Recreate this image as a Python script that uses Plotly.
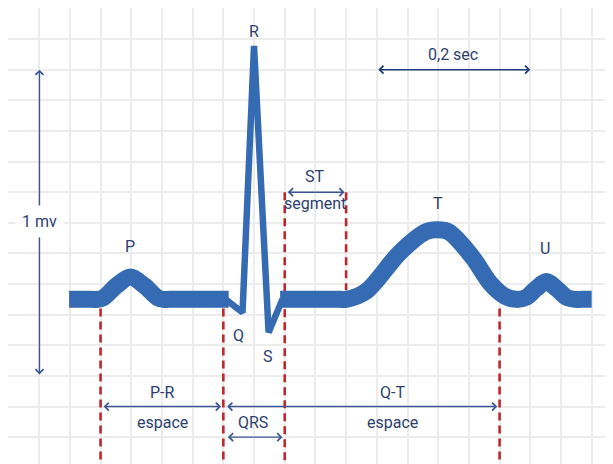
import plotly.graph_objects as go

# ---------------- data (time in seconds, amplitude in mV) ----------------
# baseline + P wave (thick trace)
p_time = [0.079, 0.108, 0.116, 0.124, 0.141, 0.159, 0.177, 0.194, 0.202, 0.210, 0.287]
p_volt = [0.0, 0.0, 0.0, 0.006, 0.045, 0.073, 0.045, 0.006, 0.0, 0.0, 0.0]

# QRS complex (thin trace)
qrs_time = [0.283, 0.305, 0.320, 0.339, 0.357]
qrs_volt = [0.0, -0.043, 0.828, -0.108, 0.0]

# ST segment + T wave + U wave (thick trace)
tu_time = [0.354, 0.432, 0.440, 0.466, 0.510, 0.544, 0.559, 0.574, 0.604, 0.628,
           0.647, 0.662, 0.675, 0.688, 0.701, 0.714, 0.727, 0.739, 0.747, 0.760]
tu_volt = [0.0, 0.0, 0.0, 0.026, 0.153, 0.221, 0.227, 0.220, 0.140, 0.052,
           0.010, 0.0, 0.007, 0.036, 0.058, 0.036, 0.007, 0.0, 0.0, 0.0]

# wave letters
wave_names = ["P", "Q", "R", "S", "T", "U"]
wave_time = [0.159, 0.2995, 0.320, 0.3385, 0.560, 0.699]
wave_volt = [0.172, -0.118, 0.874, -0.186, 0.312, 0.166]

# red dashed interval markers
marker_time = [0.12, 0.28, 0.36, 0.44, 0.64]
marker_top = [-0.03, -0.03, 0.35, 0.35, -0.03]
marker_bottom = [-0.60, -0.60, -0.60, 0.03, -0.60]

# interval arrows: (start time, end time, level)
interval_start = [0.122, 0.283, 0.284, 0.362, 0.480]
interval_end = [0.277, 0.637, 0.357, 0.438, 0.680]
interval_level = [-0.35, -0.35, -0.45, 0.35, 0.75]
interval_color = ["#3a5695", "#3a5695", "#3a5695", "#3a5695", "#1f3a78"]

# interval texts
label_texts = ["P-R", "espace", "Q-T", "espace", "QRS", "ST", "segment", "0,2 sec"]
label_time = [0.2005, 0.2005, 0.500, 0.500, 0.319, 0.3997, 0.3997, 0.5794]
label_volt = [-0.303, -0.401, -0.303, -0.401, -0.401, 0.400, 0.312, 0.800]

# amplitude calibration arrow
mv_time = 0.0404
mv_low, mv_high = -0.25, 0.75
mv_label = "1 mv"
mv_label_volt = 0.2534

# ---------------- styling ----------------
ECG_BLUE = "rgb(53,107,179)"
RED = "#c0272d"
TEXT = "#2c3e6e"
FONT = "Roboto, Arial, sans-serif"

fig = go.Figure()

# dashed markers
dx, dy = [], []
for t, a, b in zip(marker_time, marker_top, marker_bottom):
    dx += [t, t, None]
    dy += [a, b, None]
fig.add_trace(go.Scatter(x=dx, y=dy, mode="lines",
                         line=dict(color=RED, width=2.6, dash="8px,5px"),
                         hoverinfo="skip", showlegend=False))

# ECG
fig.add_trace(go.Scatter(x=p_time, y=p_volt, mode="lines",
                         line=dict(color=ECG_BLUE, width=17, shape="spline", smoothing=0.9),
                         hoverinfo="skip", showlegend=False))
fig.add_trace(go.Scatter(x=tu_time, y=tu_volt, mode="lines",
                         line=dict(color=ECG_BLUE, width=17, shape="spline", smoothing=0.9),
                         hoverinfo="skip", showlegend=False))
fig.add_trace(go.Scatter(x=qrs_time, y=qrs_volt, mode="lines",
                         line=dict(color=ECG_BLUE, width=6.5),
                         hoverinfo="skip", showlegend=False))

annotations = []
# wave letters
for n, t, v in zip(wave_names, wave_time, wave_volt):
    annotations.append(dict(x=t, y=v, xref="x", yref="y", text=n, showarrow=False,
                            font=dict(family=FONT, size=16, color=TEXT)))
# interval labels
for n, t, v in zip(label_texts, label_time, label_volt):
    annotations.append(dict(x=t, y=v, xref="x", yref="y", text=n, showarrow=False,
                            font=dict(family=FONT, size=16, color=TEXT)))

# interval arrows
for s, e, lv, c in zip(interval_start, interval_end, interval_level, interval_color):
    annotations.append(dict(x=e, y=lv, ax=s, ay=lv, xref="x", yref="y", axref="x", ayref="y",
                            text="", showarrow=True, arrowside="end+start",
                            arrowhead=4, startarrowhead=4, arrowsize=1.1, startarrowsize=1.1,
                            arrowwidth=1.4, arrowcolor=c, standoff=0, startstandoff=0))
# 1 mv arrow
annotations.append(dict(x=mv_time, y=mv_high, ax=mv_time, ay=mv_low, xref="x", yref="y",
                        axref="x", ayref="y", text="", showarrow=True, arrowside="end+start",
                        arrowhead=4, startarrowhead=4, arrowsize=1.1, startarrowsize=1.1,
                        arrowwidth=1.4, arrowcolor="#3a5695", standoff=0, startstandoff=0))
annotations.append(dict(x=mv_time, y=mv_label_volt, xref="x", yref="y", text=mv_label,
                        showarrow=False, bgcolor="white", borderpad=6,
                        font=dict(family=FONT, size=16, color=TEXT)))

fig.update_layout(
    width=605, height=456,
    margin=dict(l=0, r=0, t=0, b=0),
    paper_bgcolor="white", plot_bgcolor="white",
    annotations=annotations,
    xaxis=dict(range=[-0.0006, 0.7878], showgrid=True, gridcolor="#ececec", gridwidth=1.5,
               tickmode="linear", tick0=0, dtick=0.04, showticklabels=False,
               zeroline=False, showline=False, ticks="", fixedrange=True),
    yaxis=dict(range=[-0.5376, 0.9515], showgrid=True, gridcolor="#ececec", gridwidth=1.5,
               tickmode="linear", tick0=0.05, dtick=0.1, showticklabels=False,
               zeroline=False, showline=False, ticks="", fixedrange=True),
)

fig.write_html("out.html")
